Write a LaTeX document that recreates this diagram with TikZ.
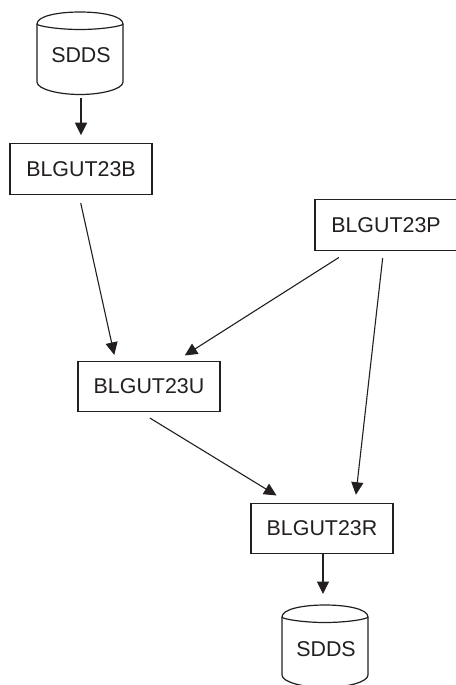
\documentclass[tikz,border=0pt]{standalone}
\usepackage{fontspec}
\setmainfont{Liberation Sans}
\usetikzlibrary{arrows.meta}
\definecolor{ink}{HTML}{231F20}
\tikzset{
  x=1pt,y=-1pt,
  procbox/.style={draw=ink,line width=1.1pt,minimum width=142pt,minimum height=50.5pt,inner sep=0pt,text=ink,font=\fontsize{21.4}{25}\selectfont},
  storetext/.style={inner sep=0pt,text=ink,font=\fontsize{21.4}{25}\selectfont},
  storeline/.style={draw=ink,line width=1.2pt,line join=round},
  flow/.style={draw=ink,line width=1.1pt,-{Triangle[length=12.5pt,width=12pt]}}
}
\begin{document}
\begin{tikzpicture}
\useasboundingbox (0,0) rectangle (455,685);
\fill[white] (0,0) rectangle (455,685);
\node[storetext] (sa) at (81,55) {SDDS};
\node[procbox] (b) at (81,169) {BLGUT23B};
\node[procbox] (p) at (386,225) {BLGUT23P};
\node[procbox] (u) at (149,386.5) {BLGUT23U};
\node[procbox] (r) at (322,528.5) {BLGUT23R};
\node[storetext] (sb) at (326,649) {SDDS};
% storage cylinders
\foreach \n/\dx/\dy in {sa/-1/-55, sb/-1/-56}{
  \begin{scope}[shift={(\n.center)},shift={(\dx,\dy)}]
    \draw[storeline] (-43,24) .. controls (-43,16) and (-22,12) .. (0,12)
       .. controls (22,12) and (43,16) .. (43,24)
       .. controls (43,26) and (22,29.5) .. (0,29.5)
       .. controls (-22,29.5) and (-43,26) .. (-43,24) -- cycle;
    \draw[storeline] (-43,24) -- (-43,82) .. controls (-43,89) and (-22,94.5) .. (0,94.5)
       .. controls (22,94.5) and (43,89) .. (43,82) -- (43,24);
  \end{scope}
}
% connectors
\draw[flow,shorten <=43pt,shorten >=8pt] (sa.center) -- (b.north);
\draw[flow,shorten <=8.4pt,shorten >=6pt] ([xshift=-2.1pt]b.south) -- ([xshift=-33.4pt]u.north);
\draw[flow,shorten <=12.4pt,shorten >=9.8pt] ([xshift=-36.6pt]p.south) -- ([xshift=27.5pt]u.north);
\draw[flow,shorten <=7.3pt,shorten >=8pt] ([xshift=-2.5pt]p.south) -- ([xshift=33pt]r.north);
\draw[flow,shorten <=10.9pt,shorten >=13.9pt] ([xshift=-8.5pt]u.south) -- ([xshift=-33.6pt]r.north);
\draw[flow,shorten >=11pt] ([xshift=1pt]r.south) -- ([xshift=-3pt,yshift=44pt]sb.center);
\end{tikzpicture}
\end{document}
